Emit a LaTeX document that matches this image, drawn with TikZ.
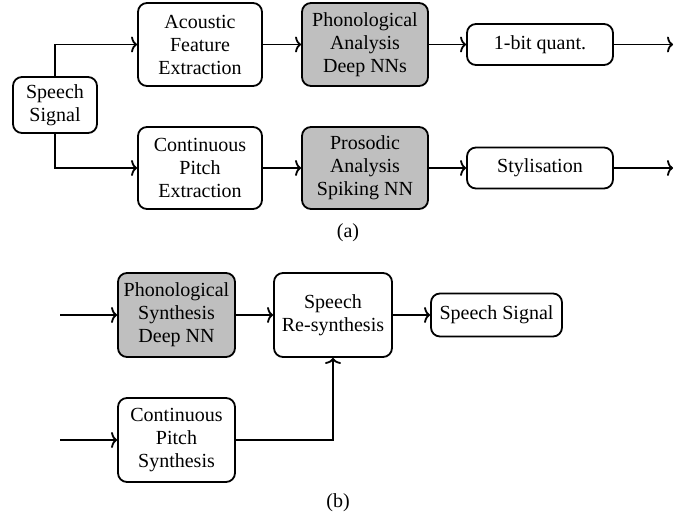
\documentclass[tikz,border=0pt]{standalone}
\usepackage{fontspec}
\setmainfont{Liberation Serif}
\usetikzlibrary{arrows.meta}
\begin{document}
\begin{tikzpicture}[x=1pt,y=-1pt,
  blk/.style={draw,line width=1.8pt,rounded corners=9pt,align=center,fill=white,inner sep=1pt,
    font=\fontsize{20}{23}\selectfont},
  gblk/.style={blk,fill=black!25},
  arr/.style={-{Computer Modern Rightarrow[length=6pt,width=16pt,line width=1.8pt]},line width=1.8pt},
  lbl/.style={font=\fontsize{20}{23}\selectfont}]
\useasboundingbox (0,0) rectangle (693,518);
% (a)
\node[blk,minimum width=84pt,minimum height=56pt] (sig) at (55,105) {Speech\\Signal};
\node[blk,minimum width=124pt,minimum height=83pt] (afe) at (200,44.5) {Acoustic\\Feature\\Extraction};
\node[blk,minimum width=124pt,minimum height=82pt] (cpe) at (200,168) {Continuous\\Pitch\\Extraction};
\node[gblk,minimum width=126pt,minimum height=83pt] (pa) at (365,44.5) {Phonological\\Analysis\\Deep NNs};
\node[gblk,minimum width=126pt,minimum height=82pt] (pro) at (365,168) {Prosodic\\Analysis\\Spiking NN};
\node[blk,minimum width=146pt,minimum height=41pt] (q) at (540,44.5) {1-bit quant.};
\node[blk,minimum width=146pt,minimum height=41pt] (sty) at (540,168) {Stylisation};
\coordinate (qo) at (673,44.5);
\coordinate (so) at (673,168);
\draw[arr] (sig) |- (afe);
\draw[arr] (sig) |- (cpe);
\draw[arr] (afe) -- (pa);
\draw[arr] (cpe) -- (pro);
\draw[arr] (pa) -- (q);
\draw[arr] (pro) -- (sty);
\draw[arr] (q) -- (qo);
\draw[arr] (sty) -- (so);
\node[lbl] (la) at (348,233) {(a)};
% (b)
\node[gblk,minimum width=117pt,minimum height=84pt] (ps) at (176.5,315) {Phonological\\Synthesis\\Deep NN};
\node[blk,minimum width=118pt,minimum height=84pt] (rs) at (333,315) {Speech\\Re-synthesis};
\node[blk,minimum width=131pt,minimum height=43pt] (ss) at (496.5,315) {Speech Signal};
\node[blk,minimum width=117pt,minimum height=84pt] (cps) at (176.5,440) {Continuous\\Pitch\\Synthesis};
\coordinate (pin) at (60,315);
\coordinate (cin) at (60,440);
\draw[arr] (pin) -- (ps);
\draw[arr] (cin) -- (cps);
\draw[arr] (ps) -- (rs);
\draw[arr] (rs) -- (ss);
\draw[arr] (cps) -| (rs);
\node[lbl] (lb) at (338,503) {(b)};
\end{tikzpicture}
\end{document}
